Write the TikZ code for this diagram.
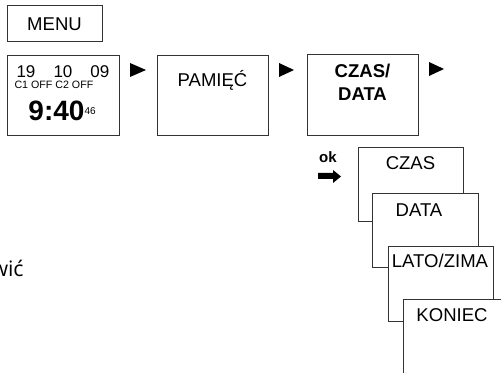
\documentclass[tikz,border=0pt]{standalone}
\usepackage{fontspec}
\setmainfont{Liberation Sans}
\newfontfamily\opensans{Open Sans}
\usetikzlibrary{positioning}

\tikzset{every picture/.style={line width=0.75pt}}

\begin{document}
\begin{tikzpicture}[
            x=0.75pt,
            y=0.75pt,
            yscale=-1,
            xscale=1,
            every node/.style={text=black, inner sep=0pt},
            box/.style={draw=black!80, fill=white},
            lbl/.style={anchor=base, font=\fontsize{13.9}{16}\selectfont},
            boldlbl/.style={anchor=base, font=\fontsize{13.9}{16}\selectfont\bfseries},
            line width=0.75pt
        ]
            \useasboundingbox (0,0) rectangle (501,373);

            % top row
            \draw[box] (7,6) rectangle (102,42);
            \node[lbl] (menu) at (54.5,31) {MENU};

            \draw[box] (7,56) rectangle (119,136);
            \node[anchor=base west, font=\fontsize{12.75}{14}\selectfont] (day) at (16,78) {19};
            \node[anchor=base west, font=\fontsize{12.75}{14}\selectfont] (month) at (53,78) {10};
            \node[anchor=base west, font=\fontsize{12.75}{14}\selectfont] (year) at (90,78) {09};
            \node[anchor=base west, font=\fontsize{8}{9}\selectfont] (chan) at (14,89) {C1 OFF C2 OFF};
            \node[anchor=base west, font=\fontsize{21}{24}\selectfont\bfseries] (clock) at (28,121) {9:40};
            \node[anchor=base west, font=\fontsize{7.5}{9}\selectfont] (sec) at (84,115) {46};

            \draw[box] (157,56) rectangle (268,136);
            \node[lbl] (pamiec) at (212.5,87) {PAMIĘĆ};

            \draw[box] (307,55) rectangle (418,136);
            \node[boldlbl] (czasA) at (362.5,78) {CZAS/};
            \node[boldlbl] (czasB) at (362.5,101) {DATA};

            \fill (130,63) -- (146,70) -- (130,77) -- cycle;
            \fill (279,63) -- (294,70) -- (279,77) -- cycle;
            \fill (429,62) -- (444,69) -- (429,76) -- cycle;

            % ok
            \node[anchor=base, font=\fontsize{11.25}{13}\selectfont\bfseries] (ok) at (328,163) {ok};
            \fill (318,173) -- (333,173) -- (333,170) -- (341,176.5) -- (333,183) -- (333,179) -- (318,179) -- cycle;

            % stacked screens
            \draw[box] (358,148) rectangle (463,222);
            \node[lbl] (czas) at (410.5,170) {CZAS};
            \draw[box] (372,194) rectangle (478,268);
            \node[lbl] (data) at (419,217) {DATA};
            \draw[box] (388,247) rectangle (493,322);
            \node[lbl] (lato) at (440,268) {LATO/ZIMA};
            \draw[box] (403,300) rectangle (505,390);
            \node[lbl] (koniec) at (452,322) {KONIEC};

            \node[anchor=base west, font=\opensans\fontsize{16}{18}\selectfont] (wic) at (-9,277) {wić};
        \end{tikzpicture}
\end{document}
